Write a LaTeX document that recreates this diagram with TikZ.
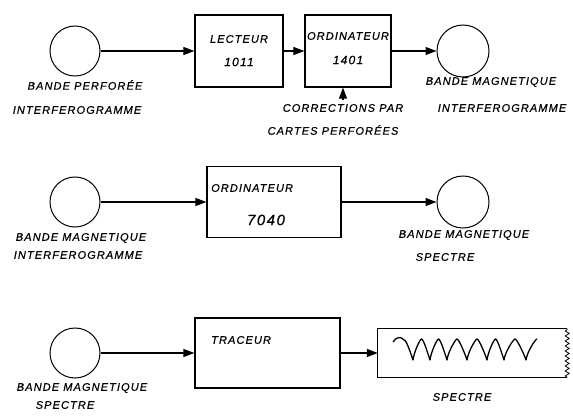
\documentclass[tikz,border=0pt]{standalone}
\usepackage{fontspec}
\newfontfamily\handfont[LetterSpace=10, FakeBold=0.6]{Liberation Sans}
\usetikzlibrary{arrows.meta, decorations.pathmorphing}

\begin{document}
\begin{tikzpicture}[x=1pt, y=-1pt, >={Triangle[length=11pt,width=8pt]},
  tape/.style={circle, draw, line width=1pt, minimum size=#1, inner sep=0pt},
  tape/.default=50pt,
  unit/.style={draw, line width=1.2pt, inner sep=0pt},
  lbl/.style={font={\handfont\itshape\fontsize{11}{13}\selectfont}, inner sep=0pt},
  num/.style={font={\handfont\itshape\fontsize{12}{14}\selectfont}, inner sep=0pt},
  flow/.style={->, line width=1.1pt}]
  \useasboundingbox (0,0) rectangle (573,417);
  % first chain: reader and 1401
  \node[tape] (tapeA) at (75,51) {};
  \node[unit, minimum width=88pt, minimum height=72pt] (lecteur) at (239,51) {};
  \node[unit, minimum width=86pt, minimum height=72pt] (ordiA) at (348,51) {};
  \node[tape=52pt] (tapeB) at (463,51) {};
  \node[lbl] (lecteurT) at (239,39) {LECTEUR};
  \node[num] (lecteurN) at (239,62) {1011};
  \node[lbl] (ordiAT) at (348,36) {ORDINATEUR};
  \node[num] (ordiAN) at (348,60) {1401};
  \node[lbl] (tapeAL1) at (85,85) {BANDE PERFORÉE};
  \node[lbl] (tapeAL2) at (77,110) {INTERFEROGRAMME};
  \node[lbl] (tapeBL1) at (491,82) {BANDE MAGNETIQUE};
  \node[lbl] (tapeBL2) at (502,108) {INTERFEROGRAMME};
  \node[lbl] (corrL1) at (343,108) {CORRECTIONS PAR};
  \node[lbl] (corrL2) at (333,130) {CARTES PERFORÉES};
  \coordinate (corr) at (343,100);
  \draw[flow] (tapeA) -- (lecteur);
  \draw[flow] (lecteur) -- (ordiA);
  \draw[flow] (ordiA) -- (tapeB);
  \draw[flow] (corr) -- (corr |- ordiA.south);
  % second chain: 7040
  \node[tape] (tapeC) at (75,202) {};
  \node[unit, minimum width=134pt, minimum height=71pt] (ordiB) at (274,202) {};
  \node[tape=52pt] (tapeD) at (463,202) {};
  \node[lbl, anchor=west] (ordiBT) at (211,188) {ORDINATEUR};
  \node[lbl, font={\handfont\itshape\fontsize{15}{17}\selectfont}] (ordiBN) at (266,220) {7040};
  \node[lbl] (tapeCL1) at (81,238) {BANDE MAGNETIQUE};
  \node[lbl] (tapeCL2) at (78,255) {INTERFEROGRAMME};
  \node[lbl] (tapeDL1) at (464,235) {BANDE MAGNETIQUE};
  \node[lbl] (tapeDL2) at (445,257) {SPECTRE};
  \draw[flow] (tapeC) -- (ordiB);
  \draw[flow] (ordiB) -- (tapeD);
  % third chain: plotter
  \node[tape] (tapeE) at (75,353) {};
  \node[unit, minimum width=145pt, minimum height=70pt] (traceur) at (267.5,353) {};
  \node[inner sep=0pt, minimum width=189pt, minimum height=48pt] (plot) at (472.5,353) {};
  \node[lbl, anchor=west] (traceurT) at (211,340) {TRACEUR};
  \node[lbl] (tapeEL1) at (82,388) {BANDE MAGNETIQUE};
  \node[lbl] (tapeEL2) at (65,405) {SPECTRE};
  \node[lbl] (plotL) at (462,397) {SPECTRE};
  \draw[flow] (tapeE) -- (traceur);
  \draw[flow] (traceur) -- (plot);
  \draw[line width=1.2pt] (plot.north east) -- (plot.north west)
    -- (plot.south west) -- (plot.south east);
  \draw[line width=0.8pt, decorate,
    decoration={zigzag, segment length=5pt, amplitude=2pt}]
    (plot.south east) -- (plot.north east);
  % recorded spectrum
  \draw[line width=1.3pt, line join=round] (393,342)
    .. controls (396,337) and (401,336) .. (404,340)
    \foreach \a/\d/\b in {404/413/421.5, 421.5/430/438.5, 438.5/447/457,
      457/467/477, 477/487/495.5, 495.5/504/515, 515/526/537}{
      .. controls (\a+2,339) and (\d-2,354) .. (\d,360)
      .. controls (\d+1,352) and (\b-1.5,339) .. (\b,339)};
\end{tikzpicture}
\end{document}
